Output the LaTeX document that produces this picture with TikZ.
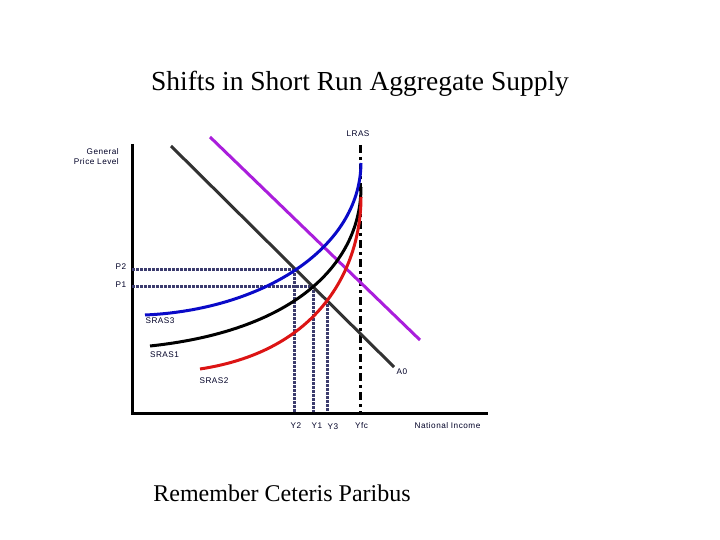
\documentclass[tikz,border=0pt]{standalone}
\usepackage{fontspec}
\setmainfont{Liberation Serif}
\newfontfamily\lblfont[LetterSpace=6]{Liberation Sans}
\begin{document}
\begin{tikzpicture}[x=1pt,y=-1pt,
  lbl/.style={font=\lblfont\fontsize{8.2}{10}\selectfont, text=black!75!blue!60!black, inner sep=0pt},
  axis/.style={line width=3pt, black},
  curve/.style={line width=3pt},
  guide/.style={line width=3pt, dash pattern=on 2.5pt off 1.5pt},
  lras/.style={line width=3pt, black, dash pattern=on 8pt off 4pt on 3pt off 4pt}]
\useasboundingbox (0,0) rectangle (720,540);
\definecolor{sblue}{RGB}{10,10,200}
\definecolor{sred}{RGB}{220,20,20}
\definecolor{spurple}{RGB}{170,30,220}
\definecolor{sgray}{RGB}{50,50,50}
\definecolor{sguide}{RGB}{60,60,110}
% titles
\node[font=\fontsize{27.5}{30}\selectfont] (title) at (360,84) {Shifts in Short Run Aggregate Supply};
\node[font=\fontsize{24}{26}\selectfont] (remember) at (282,493) {Remember Ceteris Paribus};
% axes
\coordinate (ytop) at (132,144);
\coordinate (origin) at (132,413);
\coordinate (xend) at (488,413);
\draw[axis] (ytop) -- (origin) -- (xend);
% LRAS
\coordinate (lrastop) at (360,145);
\coordinate (lrasbot) at (360,412);
\draw[lras] (lrastop) -- (lrasbot);
% guide lines
\coordinate (p2l) at (132,269); \coordinate (p2r) at (295,269);
\coordinate (p1l) at (132,286); \coordinate (p1r) at (313,286);
\coordinate (y2t) at (294,269); \coordinate (y2b) at (294,412);
\coordinate (y1t) at (313,286); \coordinate (y1b) at (313,412);
\coordinate (y3t) at (327,300); \coordinate (y3b) at (327,412);
\draw[guide, color=sguide] (p2l) -- (p2r);
\draw[guide, color=sguide] (p1l) -- (p1r);
\draw[guide, color=sguide] (y2t) -- (y2b);
\draw[guide, color=sguide] (y1t) -- (y1b);
\draw[guide, color=sguide] (y3t) -- (y3b);
% AD line
\coordinate (adtop) at (171,146);
\coordinate (adbot) at (394,367);
\draw[curve, sgray] (adtop) -- (adbot);
% purple line
\coordinate (pttop) at (210,137);
\coordinate (ptbot) at (420,340);
\draw[curve, spurple] (pttop) -- (ptbot);
% SRAS curves
\coordinate (s3a) at (145,315); \coordinate (s3b) at (361,163);
\coordinate (s1a) at (150,346); \coordinate (s1b) at (361,187);
\coordinate (s2a) at (200,369); \coordinate (s2b) at (361,197);
\draw[curve, sblue] (s3a) .. controls (260,310) and (360,250) .. (s3b);
\draw[curve, black] (s1a) .. controls (300,330) and (361,260) .. (s1b);
\draw[curve, sred] (s2a) .. controls (325,350) and (361,262) .. (s2b);
% labels
\node[lbl] (lraslbl) at (358,134) {LRAS};
\node[lbl, anchor=north east, align=right] (gpl) at (119,148) {General\\Price Level};
\node[lbl] (p2lbl) at (121,267) {P2};
\node[lbl] (p1lbl) at (121,285) {P1};
\node[lbl] (sras3) at (160,321) {SRAS3};
\node[lbl] (sras1) at (164.5,355) {SRAS1};
\node[lbl] (sras2) at (214,381) {SRAS2};
\node[lbl] (a0) at (402,372) {A0};
\node[lbl] (y2lbl) at (296,425.5) {Y2};
\node[lbl] (y1lbl) at (317,425.5) {Y1};
\node[lbl] (y3lbl) at (333,427) {Y3};
\node[lbl] (yfc) at (361.5,425.5) {Yfc};
\node[lbl] (natinc) at (447.5,425.5) {National Income};
\end{tikzpicture}
\end{document}
